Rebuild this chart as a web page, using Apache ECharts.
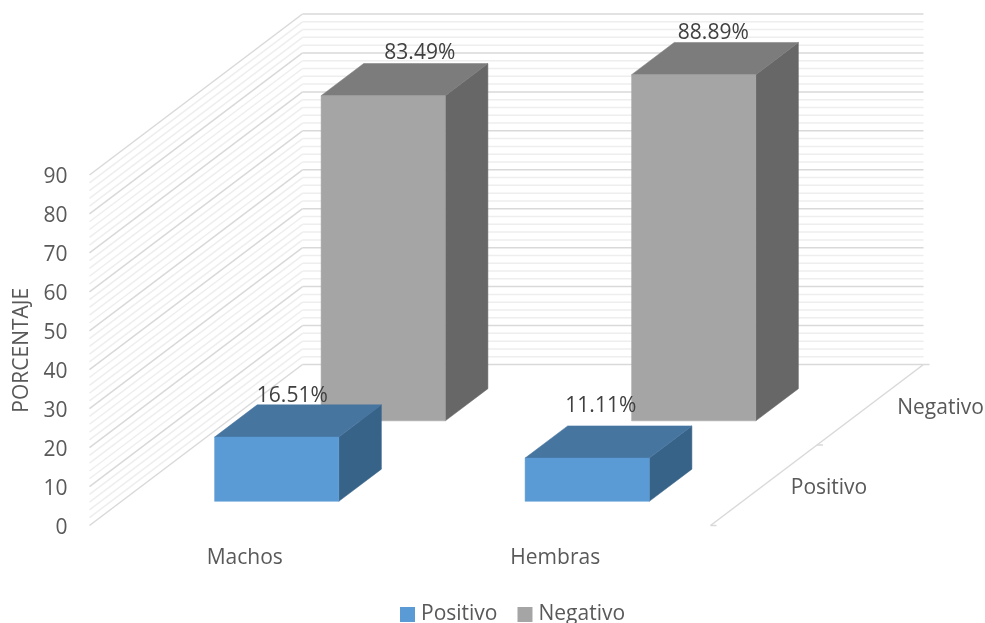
<!DOCTYPE html>
<html>
<head>
<meta charset="utf-8">
<style>html,body{margin:0;padding:0;background:#fff}#c{width:985px;height:623px}</style>
<script src="https://cdn.jsdelivr.net/npm/echarts@6/dist/echarts.min.js"></script>
</head>
<body>
<div id="c"></div>
<script>
const categories = ['Machos', 'Hembras'];
const depthCategories = ['Positivo', 'Negativo'];
const positivo = [16.51, 11.11];
const negativo = [83.49, 88.89];
const gridValues = [0,2,4,6,8,10,12,14,16,18,20,22,24,26,28,30,32,34,36,38,40,42,44,46,48,50,52,54,56,58,60,62,64,66,68,70,72,74,76,78,80,82,84,86,88,90];
const FONT = '"Open Sans", sans-serif';
const FS = 21;

// oblique projection of the depth axis
const DEPTH_X = 213, DEPTH_Y = -161;
const BAR_W = 0.4, BAR_D = 0.2;
const project = (p, d) => [p[0] + DEPTH_X * d, p[1] + DEPTH_Y * d];
const labelShift = { Positivo: [[-27, -9], [-29, -20]], Negativo: [[-6, -10], [-23, -9]] };

function barRenderer(name, depthIndex, colors) {
  return function (params, api) {
    const cat = api.value(0), val = api.value(1);
    const base = api.coord([cat, 0]), top = api.coord([cat, val]);
    const halfW = api.size([1, 0])[0] * BAR_W / 2;
    const d0 = (depthIndex + 0.5) / 2 - BAR_D / 2, d1 = d0 + BAR_D;
    const fbl = project([base[0] - halfW, base[1]], d0), fbr = project([base[0] + halfW, base[1]], d0);
    const ftl = project([base[0] - halfW, top[1]], d0), ftr = project([base[0] + halfW, top[1]], d0);
    const btl = project([base[0] - halfW, top[1]], d1), btr = project([base[0] + halfW, top[1]], d1);
    const bbr = project([base[0] + halfW, base[1]], d1);
    const poly = (points, c) => ({ type: 'polygon', shape: { points }, style: { fill: c, stroke: c, lineWidth: 0.5 } });
    const s = labelShift[name][cat];
    return {
      type: 'group',
      children: [
        poly([fbr, bbr, btr, ftr], colors.side),
        poly([ftl, ftr, btr, btl], colors.top),
        poly([fbl, fbr, ftr, ftl], colors.front),
        {
          type: 'text', z2: 10,
          style: {
            x: (btl[0] + btr[0]) / 2 + s[0], y: btl[1] + s[1],
            text: val.toFixed(2) + '%', fill: '#404040',
            font: FS + 'px ' + FONT, align: 'center', verticalAlign: 'middle'
          }
        }
      ]
    };
  };
}

const seg = (a, b, color, w) => ({ type: 'line', shape: { x1: a[0], y1: a[1], x2: b[0], y2: b[1] }, style: { stroke: color, lineWidth: w } });

function wallRenderer(params, api) {
  const v = api.value(0), cs = params.coordSys;
  const y = api.coord([0, v])[1];
  const major = v % 10 === 0;
  const color = major ? '#d9d9d9' : '#eeeeee';
  const a = [cs.x, y], b = project(a, 1), c = [b[0] + cs.width, b[1]];
  return { type: 'group', children: [seg(a, b, color, 1.5), seg(b, c, color, 1.5)] };
}

function floorRenderer(params, api) {
  const i = api.value(0), cs = params.coordSys;
  const a = [cs.x + cs.width, cs.y + cs.height];
  const tickPoint = project(a, i / 2);
  const children = [seg([tickPoint[0], tickPoint[1]], [tickPoint[0] + 6, tickPoint[1]], '#d9d9d9', 1.5)];
  if (i === 0) children.push(seg(a, project(a, 1), '#d9d9d9', 1.5));
  if (i < depthCategories.length) {
    const mid = project(a, (i + 0.5) / 2);
    children.push({
      type: 'text',
      style: { x: mid[0] + 27, y: mid[1] + 3, text: depthCategories[i], fill: '#595959', font: FS + 'px ' + FONT, align: 'left', verticalAlign: 'middle' }
    });
  }
  return { type: 'group', children };
}

const blue = { front: '#5b9bd5', top: '#4675a0', side: '#386389' };
const gray = { front: '#a5a5a5', top: '#7c7c7c', side: '#676767' };

const chart = echarts.init(document.getElementById('c'), null, { renderer: 'canvas' });
chart.setOption({
  animation: false,
  backgroundColor: '#fff',
  textStyle: { fontFamily: FONT },
  legend: {
    left: 395, top: 599, itemWidth: 15, itemHeight: 15, itemGap: 20, icon: 'rect',
    data: ['Positivo', 'Negativo'],
    textStyle: { color: '#595959', fontSize: FS, fontFamily: FONT, padding: [0, 0, 0, 1] }
  },
  grid: { left: 89.5, top: 175, width: 621, height: 350.5 },
  xAxis: {
    type: 'category', data: categories,
    axisLine: { show: false }, axisTick: { show: false }, splitLine: { show: false },
    axisLabel: { color: '#595959', fontSize: FS, margin: 22, fontFamily: FONT }
  },
  yAxis: {
    type: 'value', min: 0, max: 90, interval: 10,
    name: 'PORCENTAJE', nameLocation: 'middle', nameGap: 57,
    nameTextStyle: { color: '#595959', fontSize: FS, fontFamily: FONT },
    axisLine: { show: false }, axisTick: { show: false }, splitLine: { show: false },
    axisLabel: {
      margin: 22,
      formatter: '{a|{value}}',
      rich: { a: { color: '#595959', fontSize: FS, fontFamily: FONT, padding: [5, 0, 0, 0] } }
    }
  },
  series: [
    { type: 'custom', name: 'walls', silent: true, z: 1, renderItem: wallRenderer, data: gridValues.map(v => [v]), encode: { x: -1, y: -1 } },
    { type: 'custom', name: 'floor', silent: true, z: 1, renderItem: floorRenderer, data: [[0], [1], [2]], encode: { x: -1, y: -1 } },
    { type: 'custom', name: 'Positivo', z: 4, itemStyle: { color: blue.front }, renderItem: barRenderer('Positivo', 0, blue), data: positivo.map((v, i) => [i, v]), encode: { x: 0, y: 1 } },
    { type: 'custom', name: 'Negativo', z: 3, itemStyle: { color: gray.front }, renderItem: barRenderer('Negativo', 1, gray), data: negativo.map((v, i) => [i, v]), encode: { x: 0, y: 1 } }
  ]
});
</script>
</body>
</html>
